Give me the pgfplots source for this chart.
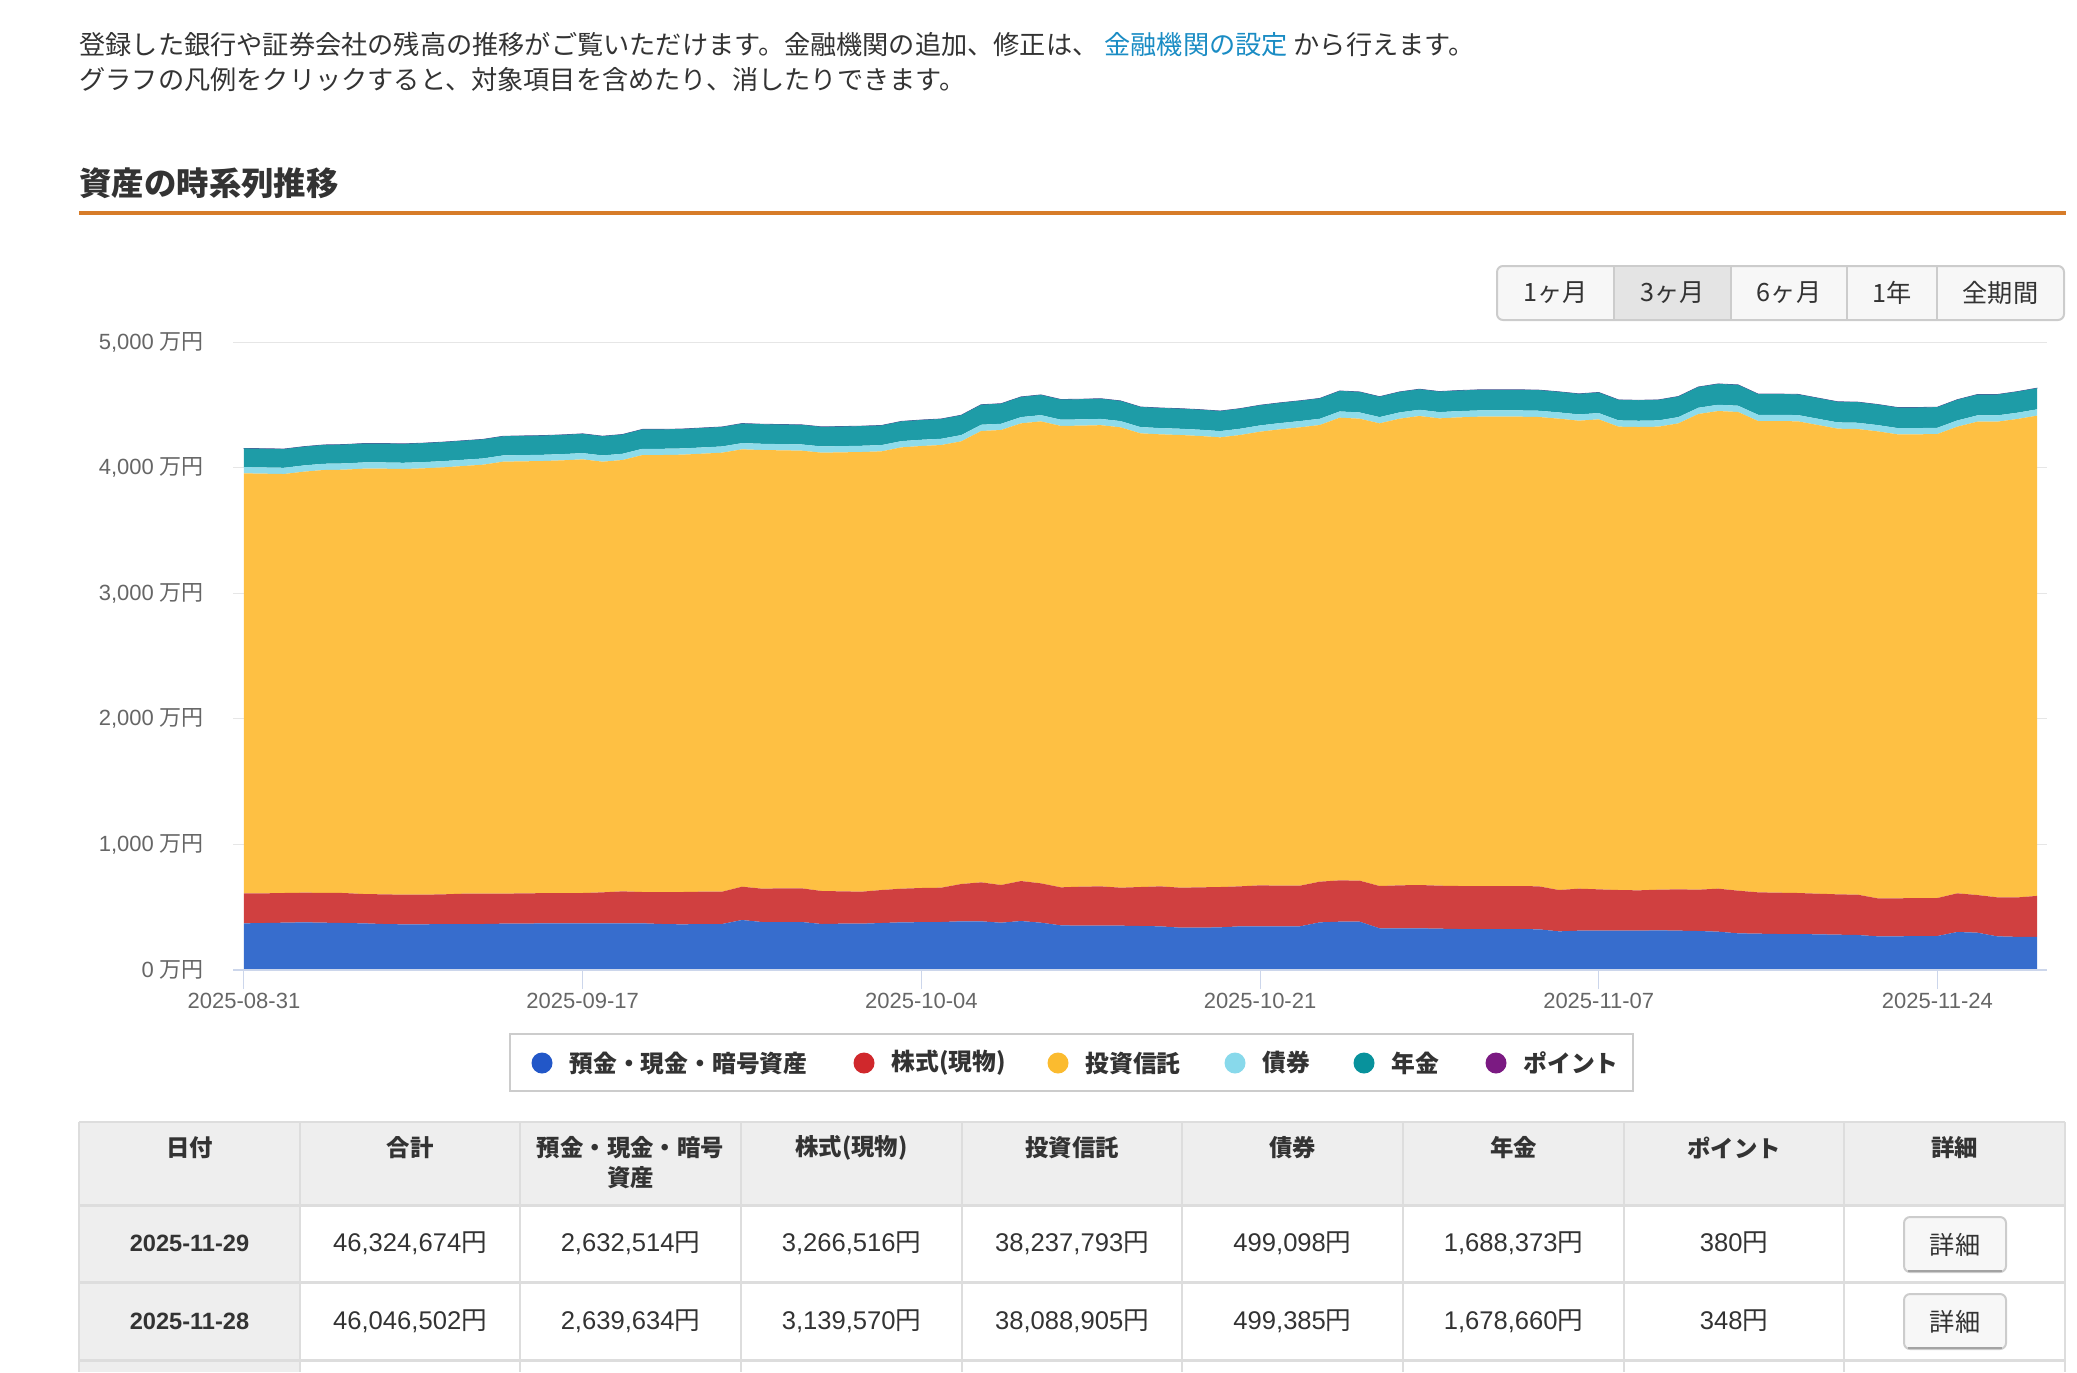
\documentclass[border=0pt]{standalone}
\usepackage{pgfplots}
\pgfplotsset{compat=1.18}
\usepackage{pgfplotstable}
\usepackage{fontspec}
\setmainfont{Liberation Sans}
\newfontfamily\jp{Noto Sans CJK JP}

\definecolor{cblue}{HTML}{376DCD}
\definecolor{cred}{HTML}{D04040}
\definecolor{cyellow}{HTML}{FEC043}
\definecolor{clb}{HTML}{8EDBEA}
\definecolor{cteal}{HTML}{1E9CA7}
\definecolor{cpurple}{HTML}{7A1F86}
\definecolor{lblue}{HTML}{2257C8}
\definecolor{lred}{HTML}{D0282C}
\definecolor{lyellow}{HTML}{FBBB2F}
\definecolor{llb}{HTML}{88D9EB}
\definecolor{lteal}{HTML}{08929C}
\definecolor{lpurple}{HTML}{7B1A82}
\definecolor{txtc}{HTML}{333333}
\definecolor{labelc}{HTML}{666666}
\definecolor{gridc}{HTML}{E6E6E6}
\definecolor{axisc}{HTML}{CCD6EB}
\definecolor{linkc}{HTML}{1A8CC4}
\definecolor{rulec}{HTML}{D77C29}
\definecolor{btnbg}{HTML}{F7F7F7}
\definecolor{btnsel}{HTML}{E4E4E4}
\definecolor{btnborder}{HTML}{CCCCCC}
\definecolor{thbg}{HTML}{EEEEEE}
\definecolor{borderc}{HTML}{DDDDDD}

% daily balances, unit: 10,000 yen (day 0 = 2025-08-31)
\pgfplotstableread{
d blue red yellow bond pension point
0 371.5 238.9 3343.9 49.6 149.0 0.03
1 374.2 236.2 3341.3 49.6 149.1 0.03
2 376.8 236.3 3335.9 49.6 149.2 0.03
3 379.5 236.2 3351.9 49.6 149.6 0.03
4 376.8 237.6 3366.5 49.6 150.0 0.03
5 374.2 238.9 3370.4 49.6 150.2 0.03
6 371.5 233.6 3386.4 49.6 150.5 0.03
7 366.2 236.2 3389.1 49.6 150.6 0.03
8 363.6 236.2 3389.0 49.6 150.7 0.03
9 363.6 236.2 3394.4 49.6 151.0 0.03
10 366.2 236.2 3399.7 49.6 151.3 0.03
11 366.2 241.5 3405.0 49.6 151.6 0.03
12 366.2 241.5 3415.6 49.6 152.0 0.03
13 368.9 238.8 3439.5 49.6 152.6 0.03
14 368.9 241.5 3439.5 49.6 152.8 0.03
15 371.5 240.2 3440.8 49.6 153.0 0.03
16 371.5 241.6 3444.8 49.6 153.2 0.03
17 371.5 241.6 3452.7 49.6 153.5 0.03
18 371.5 246.9 3428.8 49.6 153.3 0.03
19 371.5 254.8 3434.2 49.6 153.6 0.03
20 371.5 249.5 3479.3 49.6 154.4 0.03
21 366.2 254.8 3479.3 49.6 154.5 0.03
22 363.6 257.4 3482.0 49.6 154.7 0.03
23 366.2 257.5 3487.2 49.6 155.0 0.03
24 366.2 257.5 3495.2 49.6 155.2 0.03
25 398.1 265.4 3481.9 49.6 155.8 0.03
26 382.2 265.4 3492.5 49.6 155.8 0.03
27 382.2 268.0 3487.3 49.6 155.9 0.03
28 382.2 268.0 3484.6 49.6 156.0 0.03
29 366.2 262.8 3489.9 49.6 155.8 0.03
30 368.9 257.4 3495.2 49.6 156.0 0.03
31 368.9 254.8 3500.5 49.7 156.2 0.03
32 374.2 262.7 3492.6 49.7 156.4 0.03
33 379.5 268.1 3513.7 49.7 157.0 0.03
34 380.8 272.1 3519.1 49.7 157.3 0.03
35 382.2 273.3 3524.5 49.7 157.6 0.03
36 387.5 297.2 3524.4 49.7 158.2 0.03
37 387.5 310.5 3593.4 49.7 159.6 0.03
38 376.8 300.0 3622.6 49.7 159.8 0.03
39 390.1 318.5 3643.8 49.7 160.8 0.03
40 376.8 313.2 3678.0 49.7 161.2 0.03
41 355.6 302.6 3673.8 49.7 160.6 0.03
42 353.0 310.5 3670.5 49.7 160.8 0.03
43 353.0 313.1 3671.9 49.7 161.0 0.03
44 353.0 302.5 3665.1 49.7 160.8 0.03
45 350.3 310.5 3612.0 49.7 160.0 0.03
46 347.7 318.4 3598.8 49.7 160.0 0.03
47 337.0 318.5 3604.1 49.7 160.0 0.03
48 337.0 321.2 3593.4 49.7 160.0 0.03
49 339.7 321.1 3580.2 49.7 159.9 0.03
50 347.7 318.4 3593.5 49.7 160.3 0.03
51 347.7 326.4 3612.0 49.7 160.9 0.03
52 347.7 323.7 3633.3 49.7 161.3 0.03
53 347.7 323.7 3649.2 49.7 161.7 0.03
54 379.5 323.8 3635.9 49.7 162.1 0.03
55 384.8 329.1 3683.6 49.7 163.2 0.03
56 384.8 326.5 3678.3 49.7 163.1 0.03
57 331.7 337.1 3683.6 49.7 162.6 0.03
58 331.7 342.4 3715.5 49.7 163.3 0.03
59 331.7 345.1 3734.0 49.7 163.8 0.03
60 329.1 342.3 3720.8 49.7 163.6 0.03
61 326.4 342.4 3731.4 49.8 163.8 0.03
62 326.4 342.4 3736.7 49.8 164.0 0.03
63 326.4 342.4 3736.7 49.8 164.1 0.03
64 326.4 342.4 3736.7 49.8 164.2 0.03
65 323.8 342.3 3736.8 49.8 164.2 0.03
66 307.8 329.1 3752.7 49.8 164.1 0.03
67 313.2 334.4 3726.1 49.8 163.9 0.03
68 313.2 329.0 3742.1 49.8 164.2 0.03
69 313.2 323.7 3689.0 49.8 163.2 0.03
70 313.2 321.1 3688.9 49.8 163.3 0.03
71 315.8 323.8 3686.3 49.8 163.4 0.03
72 313.2 329.0 3710.2 49.8 164.0 0.03
73 310.5 329.1 3787.1 49.8 165.4 0.03
74 305.2 342.4 3803.0 49.8 166.0 0.03
75 291.9 339.7 3811.1 49.8 166.0 0.03
76 289.3 329.1 3752.6 49.8 164.8 0.03
77 286.6 329.1 3755.3 49.8 164.9 0.03
78 286.6 326.5 3755.3 49.8 165.0 0.03
79 284.0 323.7 3731.5 49.8 164.6 0.03
80 281.3 321.1 3707.6 49.8 164.2 0.03
81 278.7 321.1 3707.5 49.8 164.3 0.03
82 268.0 302.6 3718.1 49.8 164.1 0.03
83 268.0 302.6 3694.3 49.8 163.8 0.03
84 270.7 302.6 3691.6 49.8 163.9 0.03
85 270.7 302.6 3694.2 49.8 164.0 0.03
86 302.5 307.9 3715.5 49.8 165.2 0.03
87 297.2 299.9 3768.6 49.8 166.0 0.03
88 268.0 310.6 3787.1 49.9 166.2 0.03
89 263.96 313.96 3808.89 49.94 167.87 0.035
90 263.25 326.65 3823.78 49.91 168.84 0.038
}\assets

\newcommand{\en}{{\jp 円}}

\begin{document}
\begin{tikzpicture}
\begin{scope}[x=0.5pt,y=-0.5pt]
  % intro
  \node[anchor=west, inner sep=0, text=txtc, font=\jp\fontsize{13.1pt}{15pt}\selectfont] at (79,44)
    {登録した銀行や証券会社の残高の推移がご覧いただけます。金融機関の追加、修正は、 \textcolor{linkc}{金融機関の設定} から行えます。};
  \node[anchor=west, inner sep=0, text=txtc, font=\jp\fontsize{13.1pt}{15pt}\selectfont] at (79,80)
    {グラフの凡例をクリックすると、対象項目を含めたり、消したりできます。};
  % title
  \node[anchor=west, inner sep=0, text=txtc, font=\jp\bfseries\fontsize{16.2pt}{19pt}\selectfont] at (79,183) {資産の時系列推移};
  \fill[rulec] (79,211) rectangle (2066,215);
  % range buttons
  \draw[btnborder, line width=1pt, fill=btnbg, rounded corners=3pt] (1497,266) rectangle (2064,320);
  \fill[btnsel] (1614,267) rectangle (1731,319);
  \foreach \x in {1614,1731,1847,1937} \draw[btnborder, line width=1pt] (\x,267) -- (\x,319);
  \begin{scope}[every node/.style={text=txtc, font=\jp\fontsize{12.6pt}{15pt}\selectfont}]
    \node at (1555.5,293) {1ヶ月};
    \node at (1672.5,293) {3ヶ月};
    \node at (1789,293) {6ヶ月};
    \node at (1892,293) {1年};
    \node at (2000.5,293) {全期間};
  \end{scope}
  % legend
  \draw[btnborder, line width=1pt] (510,1034) rectangle (1633,1091);
  \begin{scope}[every node/.style={anchor=west, inner sep=0, text=txtc, font=\jp\bfseries\fontsize{11.9pt}{14pt}\selectfont}]
    \fill[lblue] (542,1063) circle (10.5);   \node at (569,1063) {預金・現金・暗号資産};
    \fill[lred] (864,1063) circle (10.5);    \node at (891,1063) {株式(現物)};
    \fill[lyellow] (1058,1063) circle (10.5);\node at (1085,1063) {投資信託};
    \fill[llb] (1235,1063) circle (10.5);    \node at (1262,1063) {債券};
    \fill[lteal] (1364,1063) circle (10.5);  \node at (1391,1063) {年金};
    \fill[lpurple] (1496,1063) circle (10.5);\node at (1523,1063) {ポイント};
  \end{scope}
  % table
  \fill[thbg] (79,1122) rectangle (2065,1205);
  \fill[thbg] (79,1205) rectangle (300,1372);
  \fill[borderc] (79,1121) rectangle (2065,1123);
  \fill[borderc] (79,1204) rectangle (2065,1207);
  \fill[borderc] (79,1281) rectangle (2065,1284);
  \fill[borderc] (79,1359) rectangle (2065,1362);
  \foreach \x in {79,300,520,741,962,1182,1403,1624,1844,2065}
    \draw[borderc, line width=0.6pt] (\x,1122) -- (\x,1372);
  \begin{scope}[every node/.style={text=txtc, font=\jp\bfseries\fontsize{11.7pt}{14pt}\selectfont}]
    \node at (189.5,1148) {日付};
    \node at (410,1148) {合計};
    \node at (630.5,1148) {預金・現金・暗号};
    \node at (630.5,1178) {資産};
    \node at (851.5,1148) {株式(現物)};
    \node at (1072,1148) {投資信託};
    \node at (1292.5,1148) {債券};
    \node at (1513.5,1148) {年金};
    \node at (1734,1148) {ポイント};
    \node at (1954.5,1148) {詳細};
  \end{scope}
  \begin{scope}[every node/.style={text=txtc, font=\bfseries\fontsize{11.8pt}{14pt}\selectfont}]
    \node at (189.5,1243) {2025-11-29};
    \node at (189.5,1321) {2025-11-28};
  \end{scope}
  \begin{scope}[every node/.style={text=txtc, font=\fontsize{12.8pt}{15pt}\selectfont}]
    \node at (410,1243) {46,324,674\en};
    \node at (630.5,1243) {2,632,514\en};
    \node at (851.5,1243) {3,266,516\en};
    \node at (1072,1243) {38,237,793\en};
    \node at (1292.5,1243) {499,098\en};
    \node at (1513.5,1243) {1,688,373\en};
    \node at (1734,1243) {380\en};
    \node at (410,1321) {46,046,502\en};
    \node at (630.5,1321) {2,639,634\en};
    \node at (851.5,1321) {3,139,570\en};
    \node at (1072,1321) {38,088,905\en};
    \node at (1292.5,1321) {499,385\en};
    \node at (1513.5,1321) {1,678,660\en};
    \node at (1734,1321) {348\en};
  \end{scope}
  \foreach \y in {1217,1294} {
    \draw[btnborder, line width=1pt, fill=btnbg, rounded corners=3pt] (1904,\y) rectangle (2006,\y+55);
    \draw[btnborder!80!black, line width=1pt] (1908,\y+54) -- (2002,\y+54);
    \node[text=txtc, font=\jp\fontsize{12.6pt}{15pt}\selectfont] at (1955,\y+27.5) {詳細};
  }
\end{scope}

\begin{axis}[
  at={(116.5pt,-485pt)}, anchor=south west,
  scale only axis, width=906.75pt, height=314pt,
  xmin=-0.552, xmax=90.477, ymin=0, ymax=5000,
  stack plots=y,
  axis line style={draw=none},
  tick align=outside, major tick length=9.5pt,
  xtick={0,17,34,51,68,85},
  xticklabels={2025-08-31,2025-09-17,2025-10-04,2025-10-21,2025-11-07,2025-11-24},
  xtick pos=left, xtick style={draw=axisc, line width=0.5pt},
  ytick={0,1000,2000,3000,4000,5000},
  yticklabels={{0 {\jp 万円}},{1,000 {\jp 万円}},{2,000 {\jp 万円}},{3,000 {\jp 万円}},{4,000 {\jp 万円}},{5,000 {\jp 万円}}},
  ytick style={draw=none},
  ymajorgrids, grid style={draw=gridc, line width=0.5pt},
  tick label style={font=\fontsize{11pt}{13pt}\selectfont, text=labelc},
  yticklabel style={xshift=-1.5pt},
  xticklabel style={yshift=1.5pt},
  after end axis/.code={\draw[axisc, line width=0.6pt] (rel axis cs:0,0) -- (rel axis cs:1,0);},
]
\addplot[fill=cblue, draw=none] table[x=d, y=blue] {\assets} \closedcycle;
\addplot[fill=cred, draw=none] table[x=d, y=red] {\assets} \closedcycle;
\addplot[fill=cyellow, draw=none] table[x=d, y=yellow] {\assets} \closedcycle;
\addplot[fill=clb, draw=none] table[x=d, y=bond] {\assets} \closedcycle;
\addplot[fill=cteal, draw=none] table[x=d, y=pension] {\assets} \closedcycle;
\addplot[fill=cpurple, draw=cpurple!60!cteal, line width=0.4pt] table[x=d, y=point] {\assets} \closedcycle;
\end{axis}
\pgfresetboundingbox
\useasboundingbox (0,0) rectangle (1038.5pt,-686pt);
\end{tikzpicture}
\end{document}
